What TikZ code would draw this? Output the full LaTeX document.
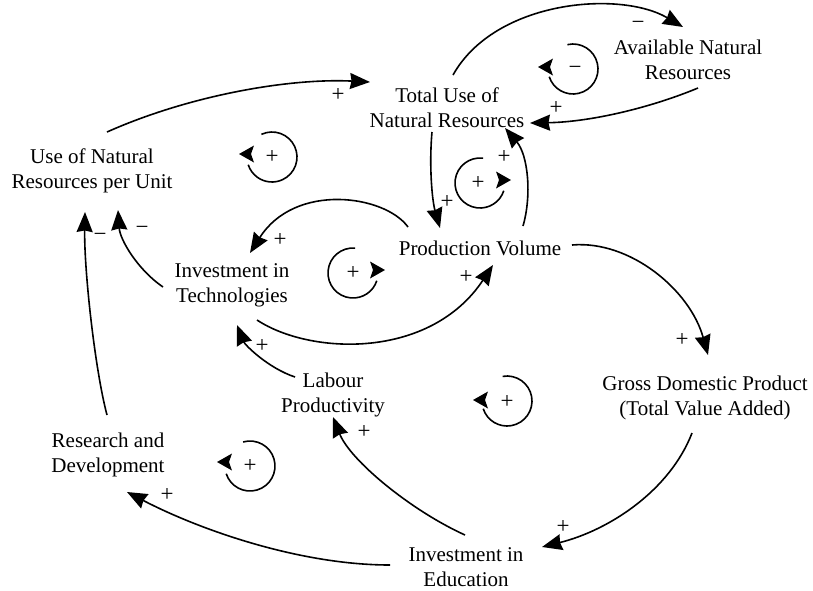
\documentclass[tikz,border=0pt]{standalone}
\usepackage{fontspec}
\setmainfont{Liberation Serif}
\usetikzlibrary{arrows.meta}
\begin{document}
\begin{tikzpicture}[x=1pt,y=-1pt,
  var/.style={align=center,font=\fontsize{21}{25}\selectfont,inner sep=0pt},
  sgn/.style={font=\fontsize{23}{24}\selectfont,inner sep=0pt},
  link/.style={line width=1.6pt,-{Stealth[length=20pt,width=16pt,inset=1.5pt]}},
  loopline/.style={line width=1.6pt},
]
\useasboundingbox (0,0) rectangle (813,590);

% variables
\node[var] (use) at (92,171) {Use of Natural\\Resources per Unit};
\node[var] (tu)  at (447,108) {Total Use of\\Natural Resources};
\node[var] (av)  at (688,60) {Available Natural\\Resources};
\node[var] (pv)  at (480,248) {Production Volume};
\node[var] (it)  at (232,285) {Investment in\\Technologies};
\node[var] (lp)  at (333,395) {Labour\\Productivity};
\node[var] (gdp) at (705,398) {Gross Domestic Product\\(Total Value Added)};
\node[var] (rd)  at (108,455) {Research and\\Development};
\node[var] (ie)  at (466,567) {Investment in\\Education};

% causal links
\draw[link] ([shift={(15,-39)}]use.center) .. controls (190,95) and (290,78) .. ([shift={(-77,-26)}]tu.center);
\draw[link] ([shift={(6,-33)}]tu.center) .. controls (495,0) and (620,-10) .. ([shift={(-5,-33)}]av.center);
\draw[link] ([shift={(10,28)}]av.center) .. controls (650,108) and (590,122) .. ([shift={(83,15)}]tu.center);
\draw[link] ([shift={(-15,24)}]tu.center) .. controls (429,165) and (432,200) .. ([shift={(-40,-20)}]pv.center);
\draw[link] ([shift={(43,-22)}]pv.center) .. controls (532,195) and (528,155) .. ([shift={(58,20)}]tu.center);
\draw[link] ([shift={(-72,-21)}]pv.center) .. controls (385,195) and (295,182) .. ([shift={(18,-32)}]it.center);
\draw[link] ([shift={(25,35)}]it.center) .. controls (310,355) and (430,360) .. ([shift={(13,17)}]pv.center);
\draw[link] ([shift={(-69,2)}]it.center) .. controls (138,270) and (120,240) .. ([shift={(26,39)}]use.center);
\draw[link] ([shift={(-1,-40)}]rd.center) .. controls (95,370) and (84,270) .. ([shift={(-7,41)}]use.center);
\draw[link] ([shift={(-38,-18)}]lp.center) .. controls (268,368) and (245,345) .. ([shift={(5,40)}]it.center);
\draw[link] ([shift={(92,-3)}]pv.center) .. controls (630,240) and (690,290) .. ([shift={(3,-43)}]gdp.center);
\draw[link] ([shift={(-13,35)}]gdp.center) .. controls (670,490) and (610,530) .. ([shift={(76,-20)}]ie.center);
\draw[link] ([shift={(-1,-32)}]ie.center) .. controls (410,510) and (350,460) .. ([shift={(0,22)}]lp.center);
\draw[link] ([shift={(-76,-2)}]ie.center) .. controls (300,565) and (200,530) .. ([shift={(19,37)}]rd.center);

% link polarities
\node[sgn] (s1)  at (338,95) {+};
\node[sgn] (s2)  at (638,25) {−};
\node[sgn] (s3)  at (556,108) {+};
\node[sgn] (s4)  at (447,202) {+};
\node[sgn] (s5)  at (504,157) {+};
\node[sgn] (s6)  at (280,240) {+};
\node[sgn] (s7)  at (466,277) {+};
\node[sgn] (s8)  at (142,230) {−};
\node[sgn] (s9)  at (100,237) {−};
\node[sgn] (s10) at (262,346) {+};
\node[sgn] (s11) at (682,340) {+};
\node[sgn] (s12) at (563,527) {+};
\node[sgn] (s13) at (364,432) {+};
\node[sgn] (s14) at (167,495) {+};

% loop markers: clockwise loops (arrow tip pointing left)
\draw[loopline] (573,69) ++(-103:25) arc[start angle=-103,end angle=162,radius=25];
\fill (538,67) -- ++(15,-8.5) -- ++(-3,8.5) -- ++(3,8.5) -- cycle;
\node[sgn] (l1) at (575,70) {−};

\draw[loopline] (272,157) ++(-115:25) arc[start angle=-115,end angle=162,radius=25];
\fill (239,154) -- ++(15,-8.5) -- ++(-3,8.5) -- ++(3,8.5) -- cycle;
\node[sgn] (l2) at (272,157) {+};

\draw[loopline] (507,401) ++(-100:25) arc[start angle=-100,end angle=162,radius=25];
\fill (473,400) -- ++(15,-8.5) -- ++(-3,8.5) -- ++(3,8.5) -- cycle;
\node[sgn] (l5) at (507,402) {+};

\draw[loopline] (250,466) ++(-106:25) arc[start angle=-106,end angle=162,radius=25];
\fill (217,462) -- ++(15,-8.5) -- ++(-3,8.5) -- ++(3,8.5) -- cycle;
\node[sgn] (l6) at (250,466) {+};

% counter-clockwise loops (arrow tip pointing right)
\draw[loopline] (480,183) ++(-83:25) arc[start angle=-83,end angle=-342,radius=25];
\fill (511,180) -- ++(-15,-8.5) -- ++(3,8.5) -- ++(-3,8.5) -- cycle;
\node[sgn] (l3) at (478,183) {+};

\draw[loopline] (353,273) ++(-85:25) arc[start angle=-85,end angle=-342,radius=25];
\fill (385,270) -- ++(-15,-8.5) -- ++(3,8.5) -- ++(-3,8.5) -- cycle;
\node[sgn] (l4) at (353,273) {+};
\end{tikzpicture}
\end{document}
